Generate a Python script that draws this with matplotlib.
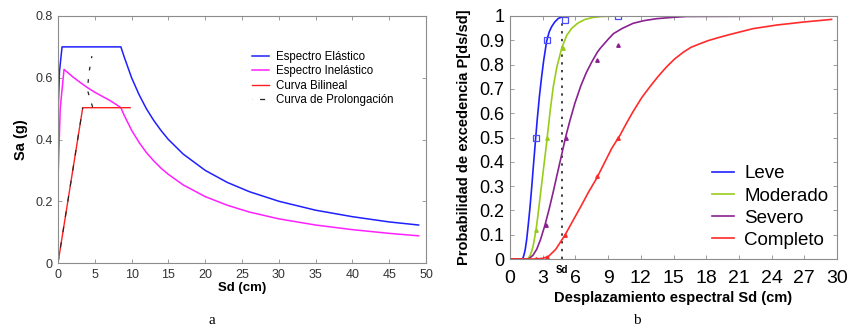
import matplotlib
matplotlib.use("Agg")
import matplotlib.pyplot as plt
from matplotlib.lines import Line2D
from matplotlib.ticker import FormatStrFormatter

plt.rcParams['font.family'] = ['Liberation Sans', 'DejaVu Sans']

# ---- panel a: spectra (Sd in cm, Sa in g)
elastic_sd = [0, 0.2, 0.55, 8.54, 9, 10, 11, 12, 13, 14, 15, 17, 20, 23, 26, 30, 35, 40, 45, 49]
elastic_sa = [0.48, 0.62, 0.70, 0.70, 0.667, 0.60, 0.546, 0.50, 0.462, 0.429, 0.40, 0.353, 0.30,
              0.261, 0.231, 0.20, 0.171, 0.15, 0.133, 0.123]

inelastic_sd = [0, 0.3, 0.82, 2, 3, 4, 5, 6, 7, 8, 8.54, 9, 10, 11, 12, 13, 14, 15, 17, 20, 23,
                26, 30, 35, 40, 45, 49]
inelastic_sa = [0.27, 0.50, 0.627, 0.603, 0.585, 0.568, 0.553, 0.540, 0.527, 0.512, 0.503, 0.478,
                0.43, 0.391, 0.358, 0.331, 0.307, 0.287, 0.253, 0.215, 0.187, 0.165, 0.143,
                0.123, 0.108, 0.096, 0.088]

bilinear_sd = [0, 3.36, 9.8]
bilinear_sa = [0, 0.503, 0.503]

prolong1_sd = [0, 3.36]
prolong1_sa = [0, 0.503]
prolong2_sd = [4.7, 4.0, 4.2, 4.6]
prolong2_sa = [0.505, 0.56, 0.615, 0.67]

# ---- panel b: fragility curves
leve_sd = [0, 1.13, 1.2, 1.3, 1.4, 1.53, 1.65, 1.83, 2.0, 2.14, 2.25, 2.36, 2.5, 2.7, 2.9, 3.1,
           3.37, 3.6, 3.82, 4.1, 4.43, 4.7, 5.0, 6.0, 8.0, 29.5]
leve_p = [0, 0, 0.005, 0.02, 0.04, 0.08, 0.13, 0.21, 0.30, 0.38, 0.44, 0.50, 0.575, 0.67, 0.75,
          0.82, 0.898, 0.935, 0.956, 0.975, 0.99, 0.995, 0.998, 1, 1, 1]
leve_mk_sd = [2.36, 3.4, 5.05, 9.95]
leve_mk_p = [0.5, 0.9, 0.985, 1.0]

moderado_sd = [0, 1.6, 1.7, 1.85, 2.0, 2.14, 2.25, 2.39, 2.55, 2.75, 2.95, 3.15, 3.3, 3.42, 3.7,
               3.97, 4.3, 4.74, 5.2, 5.66, 6.2, 6.88, 7.6, 8.4, 10, 29.5]
moderado_p = [0, 0, 0.004, 0.015, 0.033, 0.058, 0.085, 0.12, 0.175, 0.25, 0.325, 0.40, 0.455,
              0.503, 0.615, 0.709, 0.79, 0.867, 0.92, 0.949, 0.97, 0.986, 0.994, 0.998, 1, 1]
moderado_mk_sd = [2.4, 3.4, 4.9]
moderado_mk_p = [0.12, 0.5, 0.87]

severo_sd = [0, 1.7, 2.1, 2.45, 2.8, 3.21, 3.6, 3.97, 4.3, 4.59, 5.11, 5.5, 5.96, 6.5, 7.0, 7.49,
             8.0, 8.26, 9.02, 9.48, 10.3, 11.3, 12.3, 13.46, 14.8, 16.2, 29.5]
severo_p = [0, 0, 0.015, 0.04, 0.08, 0.14, 0.207, 0.277, 0.343, 0.40, 0.503, 0.57, 0.642, 0.713,
            0.767, 0.81, 0.85, 0.866, 0.905, 0.927, 0.949, 0.97, 0.981, 0.989, 0.994, 0.998, 1]
severo_mk_sd = [2.4, 3.3, 5.1, 8.0, 9.95]
severo_mk_p = [0.0, 0.14, 0.5, 0.82, 0.88]

completo_sd = [0, 2.45, 3.0, 3.52, 4.2, 5.05, 5.8, 6.57, 7.2, 7.95, 8.6, 9.33, 10.1, 10.7, 11.31,
               12.1, 12.84, 13.6, 14.37, 15.1, 15.9, 16.6, 17.43, 18.2, 19.11, 20.18, 22.3, 24.5,
               26.9, 29.5]
completo_p = [0, 0, 0.003, 0.01, 0.04, 0.099, 0.16, 0.222, 0.275, 0.332, 0.39, 0.455, 0.51,
              0.56, 0.608, 0.665, 0.709, 0.752, 0.791, 0.823, 0.851, 0.871, 0.886, 0.899, 0.911,
              0.924, 0.948, 0.963, 0.975, 0.986]
completo_mk_sd = [2.4, 3.4, 5.0, 8.0, 9.9]
completo_mk_p = [0.0, 0.01, 0.1, 0.34, 0.5]

sd_point = 4.75

W, H = 850, 334
fig = plt.figure(figsize=(W / 100, H / 100), dpi=100)


def px_axes(left, top, right, bottom):
    return fig.add_axes([left / W, 1 - bottom / H, (right - left) / W, (bottom - top) / H])


def style_box(ax, size):
    for s in ax.spines.values():
        s.set_color('#8c8c8c')
        s.set_linewidth(0.8)
    ax.tick_params(direction='in', length=3, width=0.6, color='#8c8c8c',
                   top=True, right=True, labelsize=size, pad=4)


# panel a
ax1 = px_axes(58, 16, 426, 263)
ax1.plot(elastic_sd, elastic_sa, color='#2020ff', lw=1.1, label='Espectro Elástico')
ax1.plot(inelastic_sd, inelastic_sa, color='#ff20ff', lw=1.1, label='Espectro Inelástico')
ax1.plot(bilinear_sd, bilinear_sa, color='#ff2020', lw=1.0, label='Curva Bilineal')
ax1.plot(prolong1_sd, prolong1_sa, color='#202020', lw=0.8, ls=(0, (5, 9)))
ax1.plot(prolong2_sd, prolong2_sa, color='#202020', lw=0.9, ls=(0, (3, 7)))
ax1.set_xlim(0, 50)
ax1.set_ylim(0, 0.8)
ax1.set_xticks(range(0, 51, 5))
ax1.set_yticks([0, 0.2, 0.4, 0.6, 0.8])
ax1.set_yticklabels(['0', '0.2', '0.4', '0.6', '0.8'])
style_box(ax1, 9)
ax1.tick_params(labelcolor='#333333')
ax1.set_xlabel('Sd (cm)', fontsize=9.5, fontweight='bold', labelpad=1)
ax1.set_ylabel('Sa (g)', fontsize=10.5, fontweight='bold', labelpad=5)

handles, labels = ax1.get_legend_handles_labels()
handles.append(Line2D([], [], color='#202020', lw=0.9, ls=(0, (0.1, 6, 4, 10))))
labels.append('Curva de Prolongación')
ax1.legend(handles, labels, loc='upper left', bbox_to_anchor=(0.527, 0.86), frameon=False,
           fontsize=8.3, handlelength=1.45, handletextpad=0.65, labelspacing=0.22,
           borderpad=0, borderaxespad=0)

# panel b
ax2 = px_axes(510, 16, 837, 259)
ax2.plot([sd_point, sd_point], [0, 1], color='#404040', lw=1.4, ls=(0, (1.2, 2.8)))
ax2.plot(leve_sd, leve_p, color='#2020ff', lw=1.2, label='Leve')
ax2.plot(moderado_sd, moderado_p, color='#99cc1a', lw=1.2, label='Moderado')
ax2.plot(severo_sd, severo_p, color='#8a2190', lw=1.2, label='Severo')
ax2.plot(completo_sd, completo_p, color='#ff2a2a', lw=1.2, label='Completo')
ax2.plot(leve_mk_sd, leve_mk_p, ls='none', marker='s', ms=5, mfc='none', mec='#4a4aff', mew=0.9)
ax2.plot(moderado_mk_sd, moderado_mk_p, ls='none', marker='^', ms=2.5, color='#99cc1a')
ax2.plot(severo_mk_sd, severo_mk_p, ls='none', marker='^', ms=2.5, color='#8a2190')
ax2.plot(completo_mk_sd, completo_mk_p, ls='none', marker='^', ms=2.5, color='#ff2a2a')
ax2.set_xlim(0, 30)
ax2.set_ylim(0, 1)
ax2.set_xticks(range(0, 31, 3))
ax2.set_yticks([i / 10 for i in range(11)])
ax2.yaxis.set_major_formatter(FormatStrFormatter('%g'))
style_box(ax2, 13)
ax2.tick_params(axis='x', labelsize=14, pad=8)
ax2.set_xlabel('Desplazamiento espectral Sd (cm)', fontsize=10.5, fontweight='bold', labelpad=3)
ax2.set_ylabel('Probabilidad de excedencia P[ds/sd]', fontsize=10.5, fontweight='bold', labelpad=6)
ax2.text(sd_point, -0.025, 'Sd', fontsize=7, fontweight='bold', ha='center', va='top',
         transform=ax2.get_xaxis_transform())

h2, l2 = ax2.get_legend_handles_labels()
ax2.legend(h2, l2, loc='upper left', bbox_to_anchor=(0.617, 0.386), frameon=False,
           fontsize=13.5, handlelength=1.17, handletextpad=0.55, labelspacing=0.27,
           borderpad=0, borderaxespad=0)

fig.text(212 / W, 1 - 321 / H, 'a', family=['Liberation Serif'], fontsize=11, ha='center', va='center')
fig.text(637 / W, 1 - 321 / H, 'b', family=['Liberation Serif'], fontsize=11, ha='center', va='center')

fig.savefig('out.png', dpi=100)
